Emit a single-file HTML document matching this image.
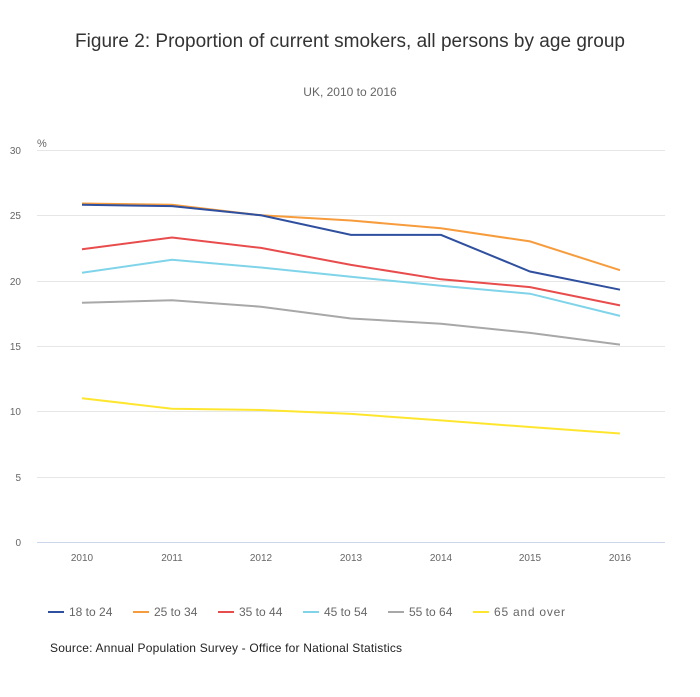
<!DOCTYPE html>
<html><head><style>
body{margin:0;background:#fff;}
text{font-family:"Liberation Sans",sans-serif;}
</style></head><body>
<svg width="700" height="692" xmlns="http://www.w3.org/2000/svg">
<text x="350" y="47" text-anchor="middle" font-size="19" fill="#333" textLength="550">Figure 2: Proportion of current smokers, all persons by age group</text>
<text x="350" y="96" text-anchor="middle" font-size="12" fill="#666">UK, 2010 to 2016</text>
<text x="37" y="147" font-size="11" fill="#666">%</text>
<g stroke="#e6e6e6" stroke-width="1">
<line x1="37" x2="665" y1="150.5" y2="150.5"/>
<line x1="37" x2="665" y1="215.5" y2="215.5"/>
<line x1="37" x2="665" y1="281.5" y2="281.5"/>
<line x1="37" x2="665" y1="346.5" y2="346.5"/>
<line x1="37" x2="665" y1="411.5" y2="411.5"/>
<line x1="37" x2="665" y1="477.5" y2="477.5"/>
</g>
<line x1="37" x2="665" y1="542.5" y2="542.5" stroke="#ccd6eb"/>
<g font-size="10" fill="#666" text-anchor="end">
<text x="21" y="154">30</text><text x="21" y="219">25</text><text x="21" y="285">20</text>
<text x="21" y="350">15</text><text x="21" y="415">10</text><text x="21" y="481">5</text><text x="21" y="546">0</text>
</g>
<g font-size="10" fill="#666" text-anchor="middle">
<text x="82" y="561">2010</text><text x="172" y="561">2011</text><text x="261" y="561">2012</text>
<text x="351" y="561">2013</text><text x="441" y="561">2014</text><text x="530" y="561">2015</text><text x="620" y="561">2016</text>
</g>
<g fill="none" stroke-width="2">
<polyline stroke="#ffe62e" points="82,398.2 172,408.7 261,410 351,413.9 441,420.4 530,427 620,433.5"/>
<polyline stroke="#a8a8a8" points="82,302.8 172,300.2 261,306.7 351,318.5 441,323.7 530,332.9 620,344.6"/>
<polyline stroke="#7fd4e9" points="82,272.8 172,259.7 261,267.5 351,276.7 441,285.8 530,293.7 620,315.9"/>
<polyline stroke="#e84c4c" points="82,249.2 172,237.5 261,247.9 351,264.9 441,279.3 530,287.1 620,305.4"/>
<polyline stroke="#f79c3c" points="82,203.5 172,204.8 261,215.3 351,220.5 441,228.3 530,241.4 620,270.2"/>
<polyline stroke="#2f4f9f" points="82,204.8 172,206.1 261,215.3 351,234.9 441,234.9 530,271.5 620,289.7"/>
</g>
<g font-size="12" fill="#666" stroke-width="2">
<line x1="48" x2="64" y1="612" y2="612" stroke="#2f4f9f"/><text x="69" y="616">18 to 24</text>
<line x1="133" x2="149" y1="612" y2="612" stroke="#f79c3c"/><text x="154" y="616">25 to 34</text>
<line x1="218" x2="234" y1="612" y2="612" stroke="#e84c4c"/><text x="239" y="616">35 to 44</text>
<line x1="303" x2="319" y1="612" y2="612" stroke="#7fd4e9"/><text x="324" y="616">45 to 54</text>
<line x1="388" x2="404" y1="612" y2="612" stroke="#a8a8a8"/><text x="409" y="616">55 to 64</text>
<line x1="473" x2="489" y1="612" y2="612" stroke="#ffe62e"/><text x="494" y="616" textLength="71">65 and over</text>
</g>
<text x="50" y="652" font-size="12" fill="#222" textLength="352">Source: Annual Population Survey - Office for National Statistics</text>
</svg>
</body></html>
